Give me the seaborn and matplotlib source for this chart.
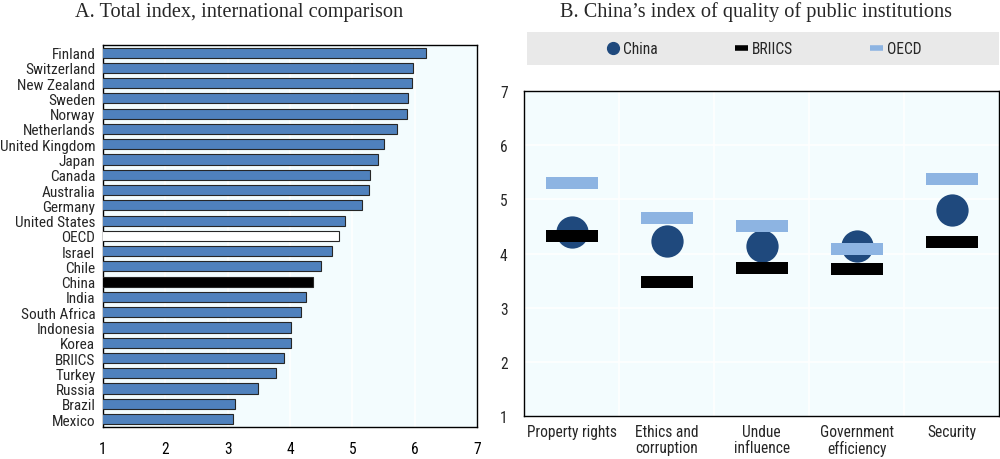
import matplotlib
matplotlib.use("Agg")
import matplotlib.pyplot as plt
import seaborn as sns
import pandas as pd
from matplotlib import font_manager
from matplotlib.lines import Line2D
from matplotlib.patches import Rectangle

# ---------------- data ----------------
countries = ["Finland", "Switzerland", "New Zealand", "Sweden", "Norway", "Netherlands",
             "United Kingdom", "Japan", "Canada", "Australia", "Germany", "United States",
             "OECD", "Israel", "Chile", "China", "India", "South Africa", "Indonesia",
             "Korea", "BRIICS", "Turkey", "Russia", "Brazil", "Mexico"]
total_index = [6.18, 5.97, 5.96, 5.89, 5.88, 5.72, 5.51, 5.41, 5.29, 5.27, 5.15, 4.88,
               4.79, 4.68, 4.49, 4.37, 4.26, 4.18, 4.02, 4.02, 3.90, 3.78, 3.49, 3.11, 3.08]

components = ["Property rights", "Ethics and\ncorruption", "Undue\ninfluence",
              "Government\nefficiency", "Security"]
china_vals = [4.39, 4.23, 4.13, 4.14, 4.80]
briics_vals = [4.33, 3.48, 3.73, 3.71, 4.22]
oecd_vals = [5.30, 4.66, 4.51, 4.08, 5.38]

x_ticks_a = [1, 2, 3, 4, 5, 6, 7]
y_ticks_b = [1, 2, 3, 4, 5, 6, 7]

# ---------------- style ----------------
sns.set_style("white")
names = {f.name for f in font_manager.fontManager.ttflist}
family = "Liberation Sans"
for cand in ["Liberation Sans Narrow", "Arial Narrow", "Roboto Condensed",
             "Open Sans Condensed", "Noto Sans Condensed", "DejaVu Sans Condensed"]:
    if cand in names:
        family = cand
        break
plt.rcParams["font.family"] = [family, "DejaVu Sans"]
plt.rcParams["axes.linewidth"] = 1.0

BLUE = "#4F81BD"
NAVY = "#1F497D"
LIGHT = "#8DB4E2"
BG = "#F3FCFE"

fig = plt.figure(figsize=(10, 4.6), dpi=100)

# size text so that the longest labels match the reference widths
renderer = fig.canvas.get_renderer()
def text_width(s, size=10):
    t = fig.text(0, 0, s, fontsize=size)
    wd = t.get_window_extent(renderer=renderer).width
    t.remove()
    return wd

FS = min(12.0, 10 * 95.0 / text_width("United Kingdom"))
FSB = min(12.0, 10 * 90.0 / text_width("Property rights"))

axA = fig.add_axes([0.103, 0.0702, 0.374, 0.8298])
axB = fig.add_axes([0.5243, 0.0941, 0.475, 0.7052])

# ---------------- panel A ----------------
dfA = pd.DataFrame({"country": countries, "value": total_index})
pal = {c: BLUE for c in countries}
pal["OECD"] = "white"
pal["China"] = "black"
axA.set_facecolor(BG)
sns.barplot(data=dfA, x="value", y="country", hue="country", palette=pal, legend=False,
            orient="h", width=0.66, edgecolor="#262626", linewidth=0.8, saturation=1,
            ax=axA, zorder=3)
axA.set_xlim(1, 7)
axA.set_ylim(len(countries) - 0.5, -0.5)
axA.set_xticks(x_ticks_a)
axA.set_xlabel("")
axA.set_ylabel("")
for v in x_ticks_a[1:-1]:
    axA.axvline(v, color="white", lw=1.2, zorder=1)
axA.tick_params(axis="x", direction="in", length=4, width=1, pad=10, labelsize=FSB,
                colors="black")
axA.tick_params(axis="y", which="major", length=0, pad=5.5, labelsize=FS)
axA.set_yticks([i + 0.5 for i in range(len(countries) - 1)], minor=True)
axA.tick_params(axis="y", which="minor", direction="in", length=4, width=1)
for s in axA.spines.values():
    s.set_visible(True)
    s.set_color("black")

# ---------------- panel B ----------------
pos = list(range(len(components)))
axB.set_facecolor(BG)
for v in y_ticks_b[1:-1]:
    axB.axhline(v, color="white", lw=1.2, zorder=1)
for v in [p + 0.5 for p in pos[:-1]]:
    axB.axvline(v, color="white", lw=1.2, zorder=1)

rect = [(-1, -0.23), (1, -0.23), (1, 0.23), (-1, 0.23), (-1, -0.23)]
sns.scatterplot(x=pos, y=china_vals, marker="o", s=540, color=NAVY, linewidth=0,
                ax=axB, zorder=3, legend=False)
sns.scatterplot(x=pos, y=oecd_vals, marker=rect, s=1400, color=LIGHT, linewidth=0,
                ax=axB, zorder=4, legend=False)
sns.scatterplot(x=pos, y=briics_vals, marker=rect, s=1400, color="black", linewidth=0,
                ax=axB, zorder=5, legend=False)
axB.set_xlim(-0.5, len(components) - 0.5)
axB.set_ylim(1, 7)
axB.set_yticks(y_ticks_b)
axB.set_xticks(pos)
axB.set_xticklabels(components, fontsize=FSB, linespacing=1.05)
axB.set_xticks([p + 0.5 for p in pos[:-1]], minor=True)
axB.tick_params(axis="x", which="major", length=0, pad=6)
axB.tick_params(axis="x", which="minor", direction="in", length=5, width=1)
axB.tick_params(axis="y", direction="in", length=5, width=1, pad=12, labelsize=FSB)
for s in axB.spines.values():
    s.set_visible(True)
    s.set_color("black")

# titles
fig.text(0.2395, 1 - 16.5 / 460, "A. Total index, international comparison",
         family="Liberation Serif", fontsize=14.6, ha="center", va="baseline")
fig.text(0.7555, 1 - 16.5 / 460, "B. China\u2019s index of quality of public institutions",
         family="Liberation Serif", fontsize=14.6, ha="center", va="baseline")

# legend
fig.patches.append(Rectangle((0.527, 0.857), 0.472, 0.0704, transform=fig.transFigure,
                             facecolor="#E9E9E9", edgecolor="none", zorder=0))
handles = [
    Line2D([], [], marker="o", linestyle="none", color=NAVY, markersize=8.5),
    Line2D([], [], color="black", lw=4, solid_capstyle="butt"),
    Line2D([], [], color=LIGHT, lw=4, solid_capstyle="butt"),
]
fig.legend(handles, ["China", "BRIICS", "OECD"], loc="center",
           bbox_to_anchor=(0.764, 0.892), ncol=3, frameon=False, fontsize=FSB,
           handlelength=0.8, handletextpad=0.25, columnspacing=5.0)

fig.savefig("out.png", dpi=100)
